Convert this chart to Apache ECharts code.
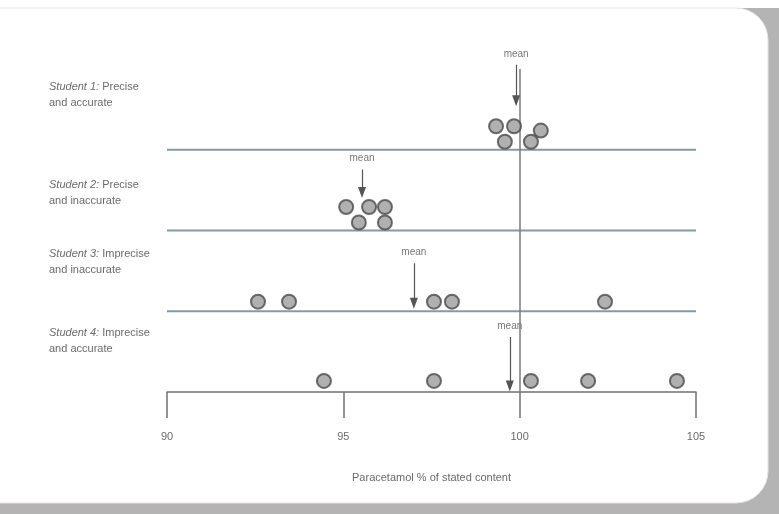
<!DOCTYPE html>
<html>
<head>
<meta charset="utf-8">
<script src="https://cdn.jsdelivr.net/npm/echarts@6/dist/echarts.min.js"></script>
<style>html,body{margin:0;padding:0;background:#fff;}#c{width:779px;height:514px;}</style>
</head>
<body>
<div id="c"></div>
<script>
// ---- data ----
const studentNames = ['Student 1:', 'Student 2:', 'Student 3:', 'Student 4:'];
const studentDesc1 = ['Precise', 'Precise', 'Imprecise', 'Imprecise'];
const studentDesc2 = ['and accurate', 'and inaccurate', 'and inaccurate', 'and accurate'];
const s1Values = [99.33, 99.84, 100.60, 99.58, 100.32];
const s1Levels = [1, 1, 0.72, 0, 0];
const s2Values = [95.08, 95.73, 96.18, 95.44, 96.18];
const s2Levels = [1, 1, 1, 0, 0];
const s3Values = [92.58, 93.46, 97.57, 98.08, 102.42];
const s3Levels = [0.1, 0.1, 0.1, 0.1, 0.1];
const s4Values = [94.45, 97.57, 100.32, 101.94, 104.46];
const s4Levels = [0.2, 0.2, 0.2, 0.2, 0.2];
const meanValues = [99.9, 95.53, 97.0, 99.72];
const trueValue = 100;
const xTicks = [90, 95, 100, 105];
const axisTitle = 'Paracetamol % of stated content';

// ---- layout ----
const rowBase = [3, 2, 1, 0];
const pxPerUnit = 80.75;
const dotBasePx = 8, dotStepPx = 15.5;
const arrowTopPx = [85, 61, 48, 55];
const arrowTipPx = [49, 38, 8, 6];
const labelTop = [79, 177, 246, 325];
const yMax = 4.5, lineTop = 4;

const allValues = [s1Values, s2Values, s3Values, s4Values];
const allLevels = [s1Levels, s2Levels, s3Levels, s4Levels];

const chart = echarts.init(document.getElementById('c'));
const font = 'Liberation Sans, Arial, sans-serif';

const series = [];
for (let i = 0; i < 3; i++) {
  series.push({
    type: 'line', silent: true, symbol: 'none',
    data: [[xTicks[0], rowBase[i]], [xTicks[xTicks.length - 1], rowBase[i]]],
    lineStyle: { color: '#8a98a0', width: 2 }, z: 1
  });
}
series.push({
  type: 'line', data: [], silent: true,
  markLine: {
    silent: true, symbol: 'none', label: { show: false },
    lineStyle: { color: '#7a7a7a', width: 1.5, type: 'solid' },
    data: [[{ coord: [trueValue, 0] }, { coord: [trueValue, lineTop] }]]
  }, z: 2
});
allValues.forEach((vals, i) => {
  series.push({
    type: 'scatter', symbolSize: 14,
    data: vals.map((v, k) => [v, rowBase[i] + (dotBasePx + allLevels[i][k] * dotStepPx) / pxPerUnit]),
    itemStyle: { color: '#9c9c9c', borderColor: '#4a4a4a', borderWidth: 2 }, z: 5
  });
});
series.push({
  type: 'line', data: [], clip: false, silent: true,
  markLine: {
    silent: true, symbol: ['none', 'triangle'], symbolSize: [8, 11],
    lineStyle: { color: '#555', width: 1.2, type: 'solid' },
    label: { show: true, position: 'start', formatter: 'mean', color: '#777', fontSize: 10, fontFamily: font, distance: 6 },
    data: meanValues.map((m, i) => [
      { coord: [m, rowBase[i] + arrowTopPx[i] / pxPerUnit] },
      { coord: [m, rowBase[i] + arrowTipPx[i] / pxPerUnit] }
    ])
  }, z: 6
});

const graphics = [
  { type: 'rect', shape: { x: 0, y: 0, width: 779, height: 514 }, style: { fill: '#b4b4b4' }, z: -10 },
  { type: 'rect', shape: { x: 0, y: 0, width: 779, height: 8 }, style: { fill: '#ffffff' }, z: -10 },
  { type: 'rect', shape: { x: -10, y: 8, width: 778, height: 495, r: [0, 32, 32, 0] }, style: { fill: '#ffffff', stroke: '#eadfe6', lineWidth: 1 }, z: -9 }
];
studentNames.forEach((n, i) => {
  graphics.push({
    type: 'text', left: 49, top: labelTop[i], z: 10,
    style: {
      text: '{i|' + n + '} ' + studentDesc1[i] + '\n' + studentDesc2[i],
      fill: '#6a6a6a', font: '11px ' + font, lineHeight: 16,
      rich: { i: { fontStyle: 'italic', fill: '#6a6a6a', fontSize: 11, fontFamily: font, lineHeight: 16 } }
    }
  });
});

chart.setOption({
  animation: false,
  grid: { left: 167, right: 83, top: 392 - yMax * pxPerUnit, bottom: 122 },
  graphic: graphics,
  xAxis: {
    type: 'value', min: 90, max: 105, interval: 5,
    name: axisTitle, nameLocation: 'middle', nameGap: 80,
    nameTextStyle: { color: '#6a6a6a', fontSize: 11, fontFamily: font },
    axisLine: { show: true, lineStyle: { color: '#707070', width: 1.5 } },
    axisTick: { show: true, length: 26, lineStyle: { color: '#707070', width: 1.5 } },
    axisLabel: { color: '#6a6a6a', fontSize: 11, fontFamily: font, margin: 39 },
    splitLine: { show: false }
  },
  yAxis: { type: 'value', min: 0, max: yMax, show: false },
  series: series
});
</script>
</body>
</html>
